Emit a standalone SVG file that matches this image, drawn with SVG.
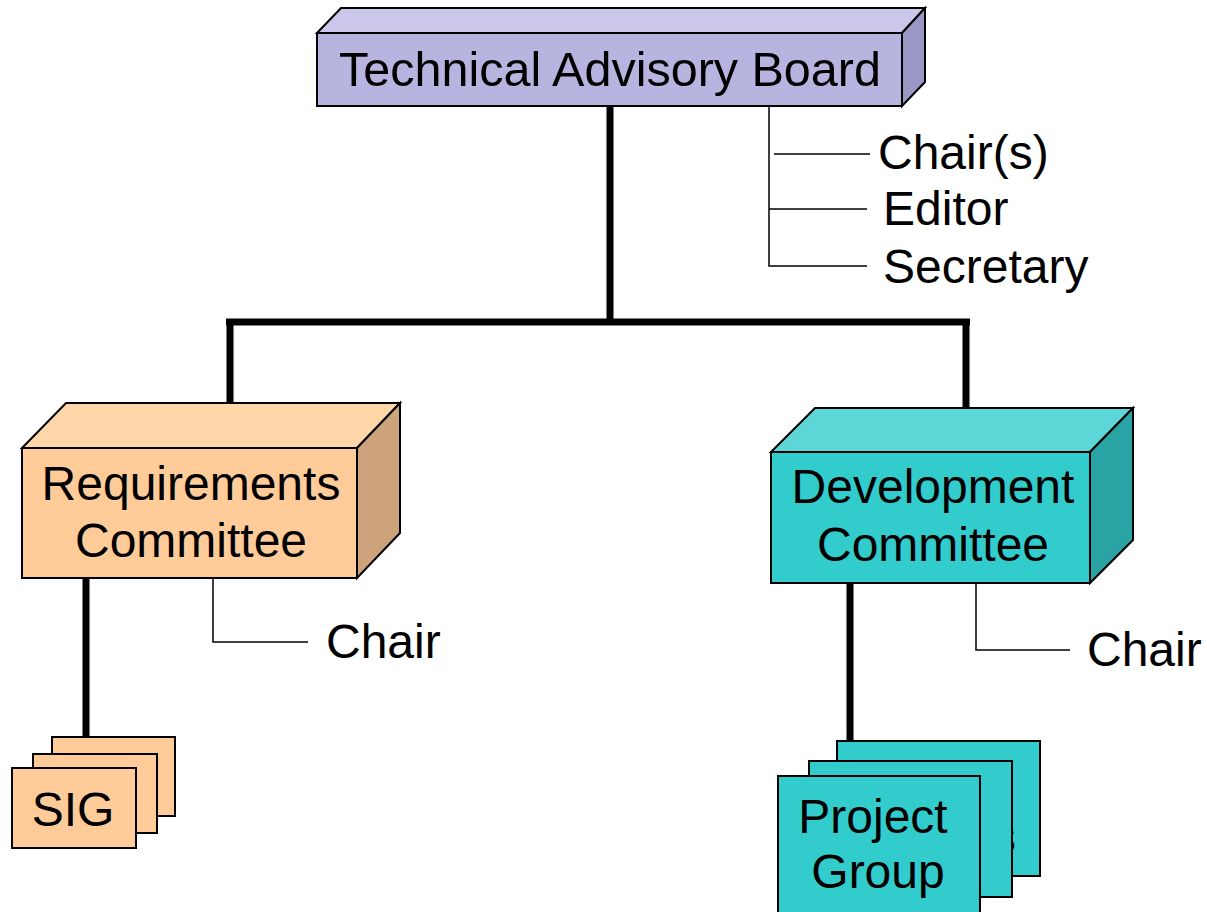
<svg xmlns="http://www.w3.org/2000/svg" width="1207" height="912" viewBox="0 0 1207 912">
<style>
text{font-family:"Liberation Sans",Arial,sans-serif;font-size:48px;fill:#000}
.c{text-anchor:middle}
.o{stroke:#000;stroke-width:2;stroke-linejoin:miter}
.thick{stroke:#000;stroke-width:7;fill:none}
.thin{stroke:#000;stroke-width:1.5;fill:none}
.lf{fill:#b8b4e0}.lt{fill:#cbc7ea}.ls{fill:#9b97c5}
.rf{fill:#ffcc99}.rt{fill:#ffd6a8}.rs{fill:#cca37a}
.df{fill:#33cccc}.dt{fill:#5cd6d6}.ds{fill:#29a3a3}
</style>
<rect width="1207" height="912" fill="#fff"/>
<g id="connectors">
<path class="thick" d="M610 106V325M226 322H970M230 322V404M966 322V409M86 578V738M850 583V741"/>
<path class="thin" d="M769 106V266H867M769 209H867M774 154H870M213 578V642H308M976 583V650H1070"/>
</g>
<g id="tab">
<polygon class="o lt" points="317,33 341,8 925,8 902,33"/>
<polygon class="o ls" points="902,33 925,8 925,82 902,106"/>
<rect class="o lf" x="317" y="33" width="585" height="73"/>
<text class="c" x="610" y="86" style="font-size:48.5px">Technical Advisory Board</text>
</g>
<g id="tab-roles">
<text x="878" y="169">Chair(s)</text>
<text x="883" y="225">Editor</text>
<text x="883" y="283">Secretary</text>
</g>
<g id="req">
<polygon class="o rt" points="22,448 66,403 400,403 357,448"/>
<polygon class="o rs" points="357,448 400,403 400,533 357,578"/>
<rect class="o rf" x="22" y="448" width="335" height="130"/>
<text class="c" x="191" y="500">Requirements</text>
<text class="c" x="191" y="557">Committee</text>
</g>
<g id="req-chair"><text x="326" y="658">Chair</text></g>
<g id="dev">
<polygon class="o dt" points="771,452 815,408 1133,408 1090,452"/>
<polygon class="o ds" points="1090,452 1133,408 1133,540 1090,583"/>
<rect class="o df" x="771" y="452" width="319" height="131"/>
<text class="c" x="933" y="503">Development</text>
<text class="c" x="933" y="561">Committee</text>
</g>
<g id="dev-chair"><text x="1087" y="666">Chair</text></g>
<g id="sig">
<rect class="o rf" x="52" y="737" width="123" height="79"/>
<rect class="o rf" x="33" y="754" width="124" height="79"/>
<rect class="o rf" x="12" y="768" width="124" height="80"/>
<text class="c" x="73" y="826">SIG</text>
</g>
<g id="project">
<rect class="o df" x="837" y="741" width="203" height="135"/>
<text x="1016" y="853" style="text-anchor:end">s</text>
<rect class="o df" x="809" y="761" width="203" height="136"/>
<rect class="o df" x="778" y="776" width="202" height="140"/>
<text class="c" x="873" y="833">Project</text>
<text class="c" x="878" y="888">Group</text>
</g>
</svg>
